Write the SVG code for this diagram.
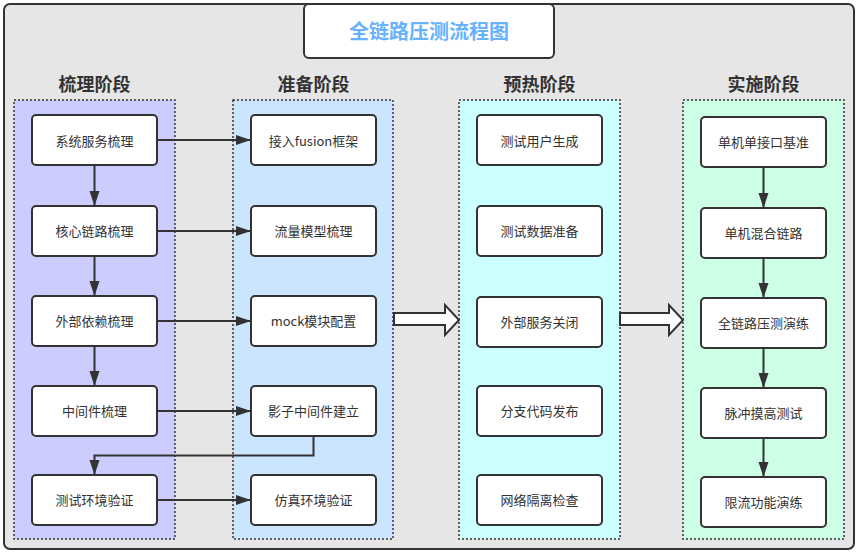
<svg xmlns="http://www.w3.org/2000/svg" width="858" height="552" viewBox="0 0 858 552">
<style>
.box{fill:#fff;stroke:#333;stroke-width:2}
.lane{stroke:#333;stroke-width:1.5;stroke-dasharray:2 2}
.t{font-family:"Noto Sans CJK SC","Noto Sans",sans-serif;font-size:13px;fill:#333;text-anchor:middle;dominant-baseline:central}
.h{font-family:"Noto Sans CJK SC","Noto Sans",sans-serif;font-size:18px;font-weight:bold;fill:#333;text-anchor:middle;dominant-baseline:central}
.c{fill:none;stroke:#333;stroke-width:2;marker-end:url(#ah)}
.big{fill:#fff;stroke:#333;stroke-width:2}
</style>
<defs>
<marker id="ah" markerWidth="16" markerHeight="12" refX="15" refY="6" orient="auto" markerUnits="userSpaceOnUse"><path d="M0,1 L15,6 L0,11 Z" fill="#333"/></marker>
</defs>
<rect x="4" y="4" width="850" height="545" rx="6" fill="#e6e6e6" stroke="#333" stroke-width="2"/>
<g id="title">
<rect x="304" y="4" width="250" height="54" rx="5" fill="#fff" stroke="#333" stroke-width="2"/>
<text x="429" y="30.5" class="h" style="fill:#66b2ff;font-size:20px">全链路压测流程图</text>
</g>
<g id="lanes">
<rect x="14" y="100" width="161" height="439" class="lane" fill="#ccccff"/>
<rect x="233" y="100" width="160" height="439" class="lane" fill="#cce5ff"/>
<rect x="459" y="100" width="161" height="439" class="lane" fill="#ccffff"/>
<rect x="683" y="100" width="161" height="439" class="lane" fill="#ccffe6"/>
<text x="94.5" y="82.5" class="h">梳理阶段</text>
<text x="313.5" y="82.5" class="h">准备阶段</text>
<text x="539.5" y="82.5" class="h">预热阶段</text>
<text x="763.5" y="82.5" class="h">实施阶段</text>
</g>
<g id="n1"><rect x="32" y="115" width="125" height="50" rx="4" class="box"/><text x="94.5" y="140" class="t">系统服务梳理</text></g>
<g id="n2"><rect x="32" y="206" width="125" height="50" rx="4" class="box"/><text x="94.5" y="230" class="t">核心链路梳理</text></g>
<g id="n3"><rect x="32" y="296" width="125" height="50" rx="4" class="box"/><text x="94.5" y="320" class="t">外部依赖梳理</text></g>
<g id="n4"><rect x="32" y="386" width="125" height="50" rx="4" class="box"/><text x="94.5" y="410" class="t">中间件梳理</text></g>
<g id="n5"><rect x="32" y="475" width="125" height="50" rx="4" class="box"/><text x="94.5" y="499" class="t">测试环境验证</text></g>
<g id="p1"><rect x="251" y="115" width="125" height="50" rx="4" class="box"/><text x="313.5" y="140" class="t">接入fusion框架</text></g>
<g id="p2"><rect x="251" y="206" width="125" height="50" rx="4" class="box"/><text x="313.5" y="230" class="t">流量模型梳理</text></g>
<g id="p3"><rect x="251" y="296" width="125" height="50" rx="4" class="box"/><text x="313.5" y="320" class="t">mock模块配置</text></g>
<g id="p4"><rect x="251" y="386" width="125" height="50" rx="4" class="box"/><text x="313.5" y="410" class="t">影子中间件建立</text></g>
<g id="p5"><rect x="251" y="475" width="125" height="50" rx="4" class="box"/><text x="313.5" y="499" class="t">仿真环境验证</text></g>
<g id="w1"><rect x="477" y="115" width="125" height="50" rx="4" class="box"/><text x="539.5" y="140" class="t">测试用户生成</text></g>
<g id="w2"><rect x="477" y="206" width="125" height="50" rx="4" class="box"/><text x="539.5" y="230" class="t">测试数据准备</text></g>
<g id="w3"><rect x="477" y="297" width="125" height="50" rx="4" class="box"/><text x="539.5" y="321" class="t">外部服务关闭</text></g>
<g id="w4"><rect x="477" y="386" width="125" height="50" rx="4" class="box"/><text x="539.5" y="410" class="t">分支代码发布</text></g>
<g id="w5"><rect x="477" y="475" width="125" height="50" rx="4" class="box"/><text x="539.5" y="499" class="t">网络隔离检查</text></g>
<g id="s1"><rect x="701" y="117" width="125" height="50" rx="4" class="box"/><text x="763.5" y="141" class="t">单机单接口基准</text></g>
<g id="s2"><rect x="701" y="208" width="125" height="50" rx="4" class="box"/><text x="763.5" y="232" class="t">单机混合链路</text></g>
<g id="s3"><rect x="701" y="298" width="125" height="50" rx="4" class="box"/><text x="763.5" y="322" class="t">全链路压测演练</text></g>
<g id="s4"><rect x="701" y="388" width="125" height="50" rx="4" class="box"/><text x="763.5" y="412" class="t">脉冲摸高测试</text></g>
<g id="s5"><rect x="701" y="477" width="125" height="50" rx="4" class="box"/><text x="763.5" y="501" class="t">限流功能演练</text></g>
<g id="connectors">
<path class="c" d="M157,140 H251"/>
<path class="c" d="M157,231 H251"/>
<path class="c" d="M157,321 H251"/>
<path class="c" d="M157,411 H251"/>
<path class="c" d="M157,500 H251"/>
<path class="c" d="M94.5,165 V206"/>
<path class="c" d="M94.5,256 V296"/>
<path class="c" d="M94.5,346 V386"/>
<path class="c" d="M313.5,436 V455.5 H94.5 V475"/>
<path class="c" d="M763.5,167 V208"/>
<path class="c" d="M763.5,258 V298"/>
<path class="c" d="M763.5,348 V388"/>
<path class="c" d="M763.5,438 V477"/>
<path class="big" d="M394,313 H445 V305 L459,320 L445,335 V325 H394 Z"/>
<path class="big" d="M620,313 H669 V305 L683,320 L669,335 V325 H620 Z"/>
</g>
</svg>
